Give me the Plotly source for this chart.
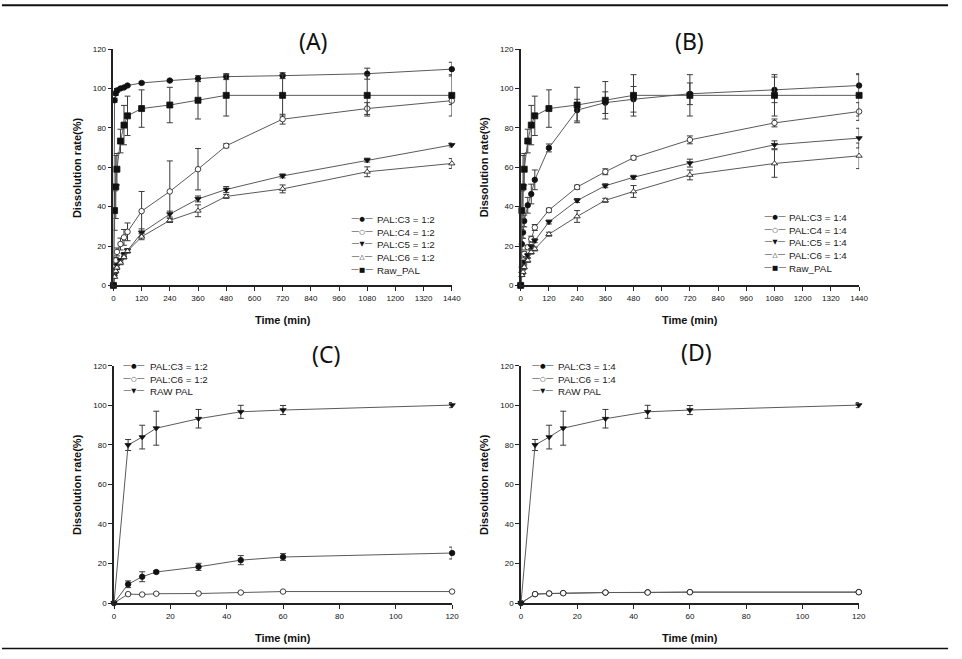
import plotly.graph_objects as go

W, H = 962, 659

# ---------------- data ----------------
time_long = [0, 5, 10, 15, 30, 45, 60, 120, 240, 360, 480, 720, 1080, 1440]
time_short = [0, 5, 10, 15, 30, 45, 60, 120]

raw_pal = [0, 38, 50, 59, 73.3, 81.4, 86.1, 89.8, 91.6, 94, 96.5, 96.5, 96.5, 96.5]
raw_pal_err = [0, 10, 16, 8, 6, 10, 10, 9.5, 9, 9.5, 10.5, 10.5, 10.5, 10.5]

a_c3 = [0, 94, 97.5, 99, 100, 100.5, 101.5, 102.8, 104, 105, 106, 106.5, 107.5, 109.8]
a_c3_err = [0, 1, 1, 1, 0.5, 0.5, 0.5, 0.5, 0.5, 1.5, 1.5, 1.5, 2.8, 3.5]
a_c4 = [0, 9.3, 12.7, 17, 21, 24.4, 27.2, 37.7, 47.7, 59, 70.9, 84.4, 89.8, 93.8]
a_c4_err = [0, 1, 1.5, 2, 3, 4, 4.5, 10, 15.5, 10.5, 1, 2.5, 3, 2]
a_c5 = [0, 5.5, 8, 10.2, 12.7, 15.7, 17.7, 26.7, 36.2, 43.9, 48.7, 55.6, 63.6, 71.3]
a_c5_err = [0, 0.5, 1, 1, 1, 1, 1, 2, 1.5, 1.5, 1.5, 1, 1, 1]
a_c6 = [0, 4.3, 7.3, 9, 11.5, 14.4, 17.4, 24.7, 33, 37.9, 45.2, 49, 57.7, 61.9]
a_c6_err = [0, 0.5, 1, 1, 1, 1, 1, 1.5, 1, 3, 1, 2, 2.5, 2.5]

b_c3 = [0, 21, 26.9, 32.7, 40.7, 46.4, 53.6, 69.8, 89, 92.8, 94.5, 97.3, 99.3, 101.5]
b_c3_err = [0, 3, 3, 3, 4, 5, 5, 2, 5.5, 5.5, 6.5, 5.5, 6.5, 6]
b_c4 = [0, 9.3, 12.7, 16, 19.4, 23.5, 29.4, 38.2, 49.9, 57.7, 64.8, 73.9, 82.5, 88.3]
b_c4_err = [0, 1, 1, 1, 1, 1.5, 1.5, 1, 1, 1.5, 1, 2, 2, 4.5]
b_c5 = [0, 6, 9, 11.9, 15.2, 19.7, 22.7, 32.2, 43.1, 50.6, 54.9, 62.1, 71.4, 74.8]
b_c5_err = [0, 0.5, 1, 1, 1, 1, 1, 1, 1, 1, 1, 2, 2, 5]
b_c6 = [0, 5.2, 6.8, 9.3, 12.7, 16.9, 18.5, 26, 35, 43.2, 47.7, 56.1, 61.9, 65.8]
b_c6_err = [0, 0.5, 1, 1, 1, 1, 1, 1, 3, 1, 3, 2.5, 7, 6.5]

raw_short = [0, 80, 84, 88.5, 93.3, 96.8, 97.7, 100.2]
raw_short_err = [0, 2.8, 6, 8.6, 4.7, 3.3, 2.3, 1.3]
c_c3 = [0, 9.5, 13.3, 15.7, 18.3, 21.7, 23.3, 25.3]
c_c3_err = [0, 1.7, 2.5, 0.7, 1.8, 2.3, 1.7, 3]
c_c6 = [0, 4.5, 4.3, 4.7, 4.8, 5.3, 5.8, 5.8]
c_c6_err = [0, 0.3, 0.3, 0.3, 0.3, 0.3, 0.3, 0.3]

d_c3 = [0, 4.5, 4.8, 5.0, 5.3, 5.4, 5.5, 5.5]
d_c3_err = [0, 0.3, 0.3, 0.3, 0.3, 0.3, 0.3, 0.3]
d_c6 = [0, 4.5, 4.8, 5.0, 5.3, 5.3, 5.5, 5.5]
d_c6_err = [0, 0.3, 0.3, 0.3, 0.3, 0.3, 0.3, 0.3]

names_a = ["PAL:C3 = 1:2", "PAL:C4 = 1:2", "PAL:C5 = 1:2", "PAL:C6 = 1:2", "Raw_PAL"]
names_b = ["PAL:C3 = 1:4", "PAL:C4 = 1:4", "PAL:C5 = 1:4", "PAL:C6 = 1:4", "Raw_PAL"]
names_c = ["PAL:C3 = 1:2", "PAL:C6 = 1:2", "RAW PAL"]
names_d = ["PAL:C3 = 1:4", "PAL:C6 = 1:4", "RAW PAL"]

ticks_long = list(range(0, 1441, 120))
ticks_short = list(range(0, 121, 20))
ticks_y = list(range(0, 121, 20))
panel_titles = ["(A)", "(B)", "(C)", "(D)"]

# ---------------- style ----------------
LINE_C = "#5a5a5a"
MK_C = "#111111"
ERR_C = "#3a3a3a"

SYM = {
    "c_fill": dict(symbol="circle", color=MK_C, line=dict(color=MK_C, width=0.8)),
    "c_open": dict(symbol="circle", color="white", line=dict(color=MK_C, width=0.8)),
    "tri_down": dict(symbol="triangle-down", color=MK_C, line=dict(color=MK_C, width=0.8)),
    "tri_open": dict(symbol="triangle-up", color="white", line=dict(color=MK_C, width=0.8)),
    "square": dict(symbol="square", color=MK_C, line=dict(color=MK_C, width=0.8)),
}
GLYPH = {"c_fill": "●", "c_open": "○", "tri_down": "▼", "tri_open": "△", "square": "■"}

fig = go.Figure()


def add(x, y, err, name, sym, ax):
    m = dict(SYM[sym])
    size = 6 if sym == "square" else 5.5
    fig.add_trace(go.Scatter(
        x=x, y=y, name=name, mode="lines+markers",
        line=dict(color=LINE_C, width=1),
        marker=dict(size=size, symbol=m["symbol"], color=m["color"], line=m["line"]),
        error_y=dict(type="data", array=err, visible=True, color=ERR_C, thickness=1, width=3),
        xaxis="x" + ax, yaxis="y" + ax, showlegend=False, cliponaxis=False,
    ))


syms_ab = ["c_fill", "c_open", "tri_down", "tri_open", "square"]
for nm, s, y, e in zip(names_a, syms_ab,
                       [a_c3, a_c4, a_c5, a_c6, raw_pal],
                       [a_c3_err, a_c4_err, a_c5_err, a_c6_err, raw_pal_err]):
    add(time_long, y, e, nm, s, "")
for nm, s, y, e in zip(names_b, syms_ab,
                       [b_c3, b_c4, b_c5, b_c6, raw_pal],
                       [b_c3_err, b_c4_err, b_c5_err, b_c6_err, raw_pal_err]):
    add(time_long, y, e, nm, s, "2")
syms_cd = ["c_fill", "c_open", "tri_down"]
for nm, s, y, e in zip(names_c, syms_cd, [c_c3, c_c6, raw_short],
                       [c_c3_err, c_c6_err, raw_short_err]):
    add(time_short, y, e, nm, s, "3")
for nm, s, y, e in zip(names_d, syms_cd, [d_c3, d_c6, raw_short],
                       [d_c3_err, d_c6_err, raw_short_err]):
    add(time_short, y, e, nm, s, "4")

# ---------------- axes ----------------
def px_x(p):
    return p / W


def px_y(p):
    return (H - p) / H


TICKFONT = dict(family="Arial, Liberation Sans, sans-serif", size=8, color="#111")

panels = [
    dict(ax="", x0=112.7, x1=455, y0=285.3, y1=45.7, ticks=ticks_long, rng=[0, 1440]),
    dict(ax="2", x0=524.7, x1=867, y0=285.3, y1=45.7, ticks=ticks_long, rng=[0, 1440]),
    dict(ax="3", x0=113.3, x1=455.3, y0=607.3, y1=367, ticks=ticks_short, rng=[0, 120]),
    dict(ax="4", x0=525, x1=866.7, y0=607.3, y1=367, ticks=ticks_short, rng=[0, 120]),
]

layout_axes = {}
for p in panels:
    a = p["ax"]
    layout_axes["xaxis" + a] = dict(
        domain=[px_x(p["x0"]), px_x(p["x1"])], range=p["rng"], anchor="y" + a,
        tickvals=p["ticks"], ticks="outside", ticklen=4, tickwidth=1, tickcolor="#222",
        showline=True, linecolor="#222", linewidth=2, showgrid=False, zeroline=False,
        tickfont=TICKFONT, fixedrange=True,
    )
    layout_axes["yaxis" + a] = dict(
        domain=[px_y(p["y0"]), px_y(p["y1"])], range=[0, 120], anchor="x" + a,
        tickvals=ticks_y, ticks="outside", ticklen=4, tickwidth=1, tickcolor="#222",
        showline=True, linecolor="#222", linewidth=1.5, showgrid=False, zeroline=False,
        tickfont=TICKFONT, fixedrange=True,
    )

# ---------------- annotations ----------------
ann = []
title_pos = [(315, 38), (695, 38), (328, 355), (703, 353)]
for t, (cx, cy) in zip(panel_titles, title_pos):
    ann.append(dict(text=t, x=px_x(cx), y=px_y(cy), xref="paper", yref="paper",
                    showarrow=False, xanchor="center", yanchor="middle",
                    font=dict(family="Noto Sans, Open Sans, sans-serif", size=23, color="#111")))

AXT = dict(family="Arial, Liberation Sans, sans-serif", size=11, color="#111")
for p in panels:
    cx = (p["x0"] + p["x1"]) / 2
    ann.append(dict(text="<b>Time (min)</b>", x=px_x(cx), y=px_y(p["y0"] + 35),
                    xref="paper", yref="paper", showarrow=False,
                    xanchor="center", yanchor="middle", font=AXT))
    cy = (p["y0"] + p["y1"]) / 2
    ann.append(dict(text="<b>Dissolution rate(%)</b>", x=px_x(p["x0"] - 37), y=px_y(cy),
                    xref="paper", yref="paper", showarrow=False, textangle=-90,
                    xanchor="center", yanchor="middle", font=AXT))

LEGF = dict(family="Arial, Liberation Sans, DejaVu Sans, sans-serif", size=9.8, color="#1a1a1a")


def legend(names, syms, gx, tx, top):
    dash = "<span style='color:#555;font-size:8px'>—</span>"
    glyphs = "<br>".join(dash + "<span style='font-size:6.5px'>" + GLYPH[s] + "</span>" + dash
                         for s in syms)
    ann.append(dict(text=glyphs, x=px_x(gx), y=px_y(top), xref="paper", yref="paper",
                    showarrow=False, xanchor="center", yanchor="top", align="center",
                    font=dict(family="DejaVu Sans, sans-serif", size=9.8, color="#111")))
    ann.append(dict(text="<br>".join(names), x=px_x(tx), y=px_y(top), xref="paper", yref="paper",
                    showarrow=False, xanchor="left", yanchor="top", align="left", font=LEGF))


legend(names_a, syms_ab, 364, 377, 211)
legend(names_b, syms_ab, 782, 794, 209)
legend(names_c, syms_cd, 134, 148, 360)
legend(names_d, syms_cd, 547, 560, 360)

shapes = [
    dict(type="line", xref="paper", yref="paper", x0=0, x1=px_x(957), y0=px_y(1.2), y1=px_y(1.2),
         line=dict(color="#111", width=2)),
    dict(type="line", xref="paper", yref="paper", x0=0, x1=px_x(957), y0=px_y(653.5), y1=px_y(653.5),
         line=dict(color="#111", width=1.5)),
]

fig.update_layout(
    width=W, height=H, margin=dict(l=0, r=0, t=0, b=0),
    paper_bgcolor="white", plot_bgcolor="white", showlegend=False,
    annotations=ann, shapes=shapes, **layout_axes,
)

fig.write_html("out.html", config={"displayModeBar": False},
               post_script="document.body.style.margin='0';document.body.style.overflow='hidden';")
